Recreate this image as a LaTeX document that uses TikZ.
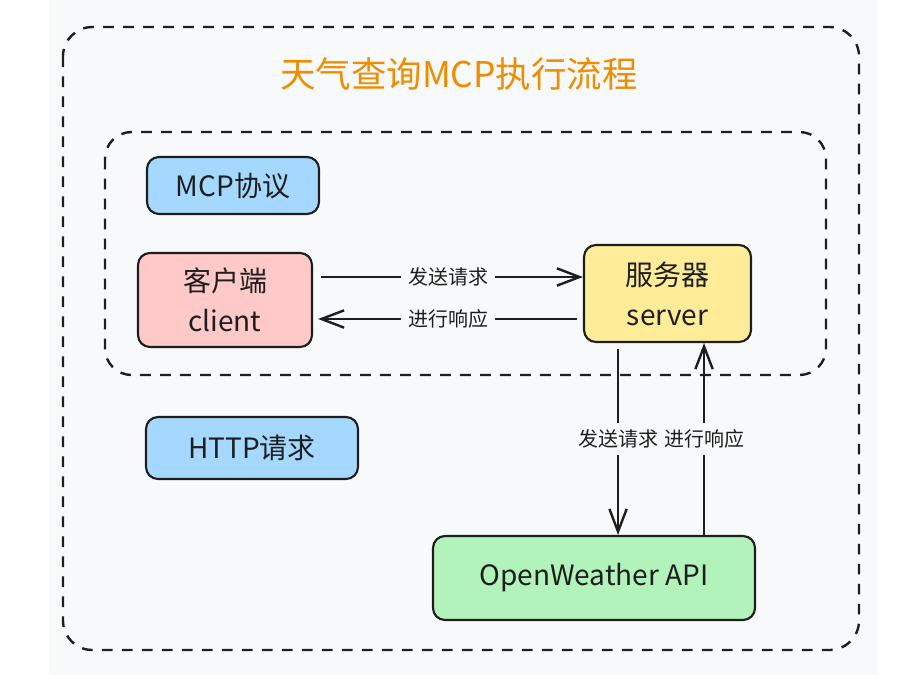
\documentclass[tikz,border=0pt]{standalone}
\usepackage{fontspec}
\setmainfont{Noto Sans CJK SC}
\usetikzlibrary{arrows.meta}
\definecolor{bgcol}{HTML}{F8F9FA}
\definecolor{inkcol}{HTML}{1E1E1E}
\definecolor{bluecol}{HTML}{A5D8FF}
\definecolor{pinkcol}{HTML}{FFC9C9}
\definecolor{yellowcol}{HTML}{FFEC99}
\definecolor{greencol}{HTML}{B2F2BB}
\definecolor{orangecol}{HTML}{F08C00}

\begin{document}
\begin{tikzpicture}[x=0.75pt,y=-0.75pt,
	box/.style={draw=inkcol,line width=1.6pt,rounded corners=9pt,inner sep=0pt,align=center,text=inkcol,font=\fontsize{21}{30}\selectfont},
	frame/.style={draw=inkcol,line width=1.8pt,dash pattern=on 8pt off 7pt},
	arr/.style={draw=inkcol,line width=1.8pt,-{Straight Barb[length=17pt,width=13pt]}},
	lab/.style={fill=bgcol,text=inkcol,inner xsep=5pt,inner ysep=5pt,font=\fontsize{15}{18}\selectfont},
	vlab/.style={lab,inner xsep=1pt}]
		\useasboundingbox (0,0) rectangle (916,686);
		\fill[bgcol] (49,0) rectangle (878,675);
		\draw[frame,rounded corners=22pt] (63,27) rectangle (859,650);
		\draw[frame,rounded corners=20pt] (105,132) rectangle (826,375);

			\node[text=orangecol,font=\fontsize{26.6}{30}\selectfont] (title) at (459,74) {天气查询MCP执行流程};

			\node[box,fill=bluecol,minimum width=129pt,minimum height=42.75pt] (mcp) at (233,185.5) {MCP协议};
			\node[box,fill=pinkcol,minimum width=130.5pt,minimum height=70.5pt] (client) at (225,300) {客户端\\client};
			\node[box,fill=yellowcol,minimum width=125.25pt,minimum height=72.75pt] (server) at (667.5,293.5) {服务器\\server};
			\node[box,fill=bluecol,minimum width=159pt,minimum height=46.5pt] (http) at (252,448) {HTTP请求};
			\node[box,fill=greencol,minimum width=241.5pt,minimum height=63pt] (api) at (594,578) {OpenWeather API};

		\draw[arr,shorten <=6pt] ([yshift=17.25pt]client.east) -- node[lab] {发送请求} ([yshift=17.25pt]client.east -| server.west);
		\draw[arr,shorten <=4.5pt,shorten >=3.75pt] ([yshift=-14.25pt]client.east -| server.west) -- node[lab] {进行响应} ([yshift=-14.25pt]client.east);
		\draw[arr,shorten <=4.5pt] ([xshift=-37.1pt]server.south) -- node[vlab] {发送请求} ([xshift=-37.1pt]server.south |- api.north);
		\draw[arr] ([xshift=27.4pt]server.south |- api.north) -- node[vlab] {进行响应} ([xshift=27.4pt]server.south);

\end{tikzpicture}
\end{document}
